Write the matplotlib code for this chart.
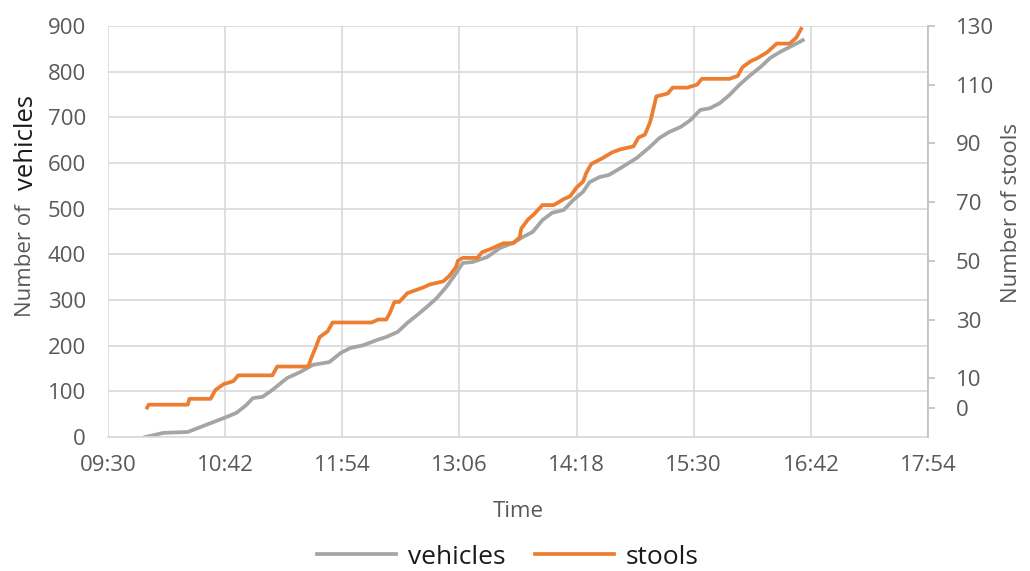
import matplotlib.pyplot as plt
from matplotlib.ticker import FuncFormatter

# values
veh_time = ['09:53', '10:04', '10:19', '10:27', '10:35', '10:43', '10:49', '10:55',
            '10:59', '11:05', '11:11', '11:20', '11:28', '11:36', '11:46', '11:53',
            '11:59', '12:07', '12:15', '12:21', '12:28', '12:34', '12:40', '12:46',
            '12:52', '12:58', '13:04', '13:08', '13:14', '13:23', '13:31', '13:39',
            '13:45', '13:51', '13:57', '14:03', '14:10', '14:16', '14:22', '14:26',
            '14:32', '14:38', '14:46', '14:55', '15:03', '15:09', '15:15', '15:22',
            '15:28', '15:34', '15:40', '15:46', '15:52', '15:58', '16:05', '16:11',
            '16:17', '16:23', '16:29', '16:35', '16:37']
veh_count = [0, 9, 11, 22, 33, 44, 53, 70,
             85, 88, 103, 129, 142, 158, 164, 184,
             195, 201, 212, 219, 230, 250, 267, 285,
             304, 329, 359, 381, 383, 394, 414, 425,
             438, 449, 475, 491, 497, 519, 537, 558,
             569, 574, 591, 611, 635, 655, 668, 679,
             694, 716, 720, 731, 749, 771, 793, 810,
             830, 843, 854, 865, 869]

stool_time = ['09:54', '09:55', '10:19', '10:20', '10:33', '10:36', '10:41', '10:47',
              '10:50', '11:11', '11:14', '11:33', '11:35', '11:38', '11:40', '11:45',
              '11:48', '12:12', '12:16', '12:21', '12:23', '12:26', '12:29', '12:34',
              '12:39', '12:44', '12:48', '12:56', '13:00', '13:04', '13:05', '13:08',
              '13:17', '13:20', '13:25', '13:29', '13:33', '13:39', '13:43', '13:44',
              '13:48', '13:52', '13:57', '14:04', '14:10', '14:14', '14:18', '14:22',
              '14:24', '14:27', '14:34', '14:40', '14:45', '14:53', '14:56', '15:00',
              '15:03', '15:04', '15:07', '15:14', '15:17', '15:26', '15:32', '15:35',
              '15:52', '15:57', '16:00', '16:05', '16:09', '16:15', '16:21', '16:29',
              '16:33', '16:35', '16:36']
stool_count = [0, 1, 1, 3, 3, 6, 8, 9,
               11, 11, 14, 14, 17, 21, 24, 26,
               29, 29, 30, 30, 32, 36, 36, 39,
               40, 41, 42, 43, 45, 48, 50, 51,
               51, 53, 54, 55, 56, 56, 58, 61,
               64, 66, 69, 69, 71, 72, 75, 77,
               80, 83, 85, 87, 88, 89, 92, 93,
               97, 99, 106, 107, 109, 109, 110, 112,
               112, 113, 116, 118, 119, 121, 124, 124,
               126, 128, 129]

x_ticks = ['09:30', '10:42', '11:54', '13:06', '14:18', '15:30', '16:42', '17:54']
left_ticks = [0, 100, 200, 300, 400, 500, 600, 700, 800, 900]
right_ticks = [0, 10, 30, 50, 70, 90, 110, 130]


def to_min(hhmm):
    h, m = hhmm.split(':')
    return int(h) * 60 + int(m)


def fmt_time(v, pos):
    v = int(round(v))
    return '%02d:%02d' % (v // 60, v % 60)


plt.rcParams['font.family'] = ['Open Sans', 'DejaVu Sans']

grey_txt = '#595959'
grid_col = '#d9d9d9'

fig = plt.figure(figsize=(10.3, 5.71), dpi=100)
ax = fig.add_axes([0.1049, 0.2347, 0.7961, 0.7198])
ax2 = ax.twinx()

x_v = [to_min(t) for t in veh_time]
x_s = [to_min(t) for t in stool_time]
xt = [to_min(t) for t in x_ticks]

l1, = ax.plot(x_v, veh_count, color='#a5a5a5', lw=2.7, label='vehicles',
              solid_joinstyle='round')
l2, = ax2.plot(x_s, stool_count, color='#ed7d31', lw=2.7, label='stools',
               solid_joinstyle='round')

ax.set_xlim(xt[0], xt[-1])
ax.set_xticks(xt)
ax.xaxis.set_major_formatter(FuncFormatter(fmt_time))
ax.set_ylim(0, 900)
ax.set_yticks(left_ticks)
ax2.set_ylim(-10, 130)
ax2.set_yticks(right_ticks)

ax.grid(True, color=grid_col, lw=1.2)
ax.set_axisbelow(True)

for a in (ax, ax2):
    for s in a.spines.values():
        s.set_visible(False)
ax.spines['bottom'].set_visible(True)
ax.spines['bottom'].set_color(grid_col)
ax.spines['bottom'].set_linewidth(1.2)
ax2.spines['right'].set_visible(True)
ax2.spines['right'].set_color('#bfbfbf')
ax2.spines['right'].set_linewidth(1.2)

ax.tick_params(axis='y', length=0, labelsize=16, labelcolor=grey_txt, pad=16)
ax.tick_params(axis='x', length=0, labelsize=16, labelcolor=grey_txt, pad=13)
ax2.tick_params(axis='y', length=5, width=1.2, color='#bfbfbf',
                labelsize=16, labelcolor=grey_txt, pad=15)

ax.set_xlabel('Time', fontsize=16, color=grey_txt, labelpad=18)

# left label: "vehicles" is darker than "Number of"
fig.text(0.025, 1 - 261 / 571, 'Number of', rotation=90, fontsize=16,
         color=grey_txt, ha='center', va='center')
fig.text(0.026, 1 - 143 / 571, 'vehicles', rotation=90, fontsize=18.5,
         color='#1a1a1a', ha='center', va='center')
fig.text(0.982, 1 - 213 / 571, 'Number of stools', rotation=90, fontsize=16,
         color=grey_txt, ha='center', va='center')

fig.legend(handles=[l1, l2], loc='center', bbox_to_anchor=(0.493, 1 - 557 / 571),
           ncol=2, frameon=False, fontsize=19, handlelength=3.0,
           columnspacing=1.1, handletextpad=0.45, labelcolor='#1a1a1a')

fig.savefig('out.png', dpi=100)
